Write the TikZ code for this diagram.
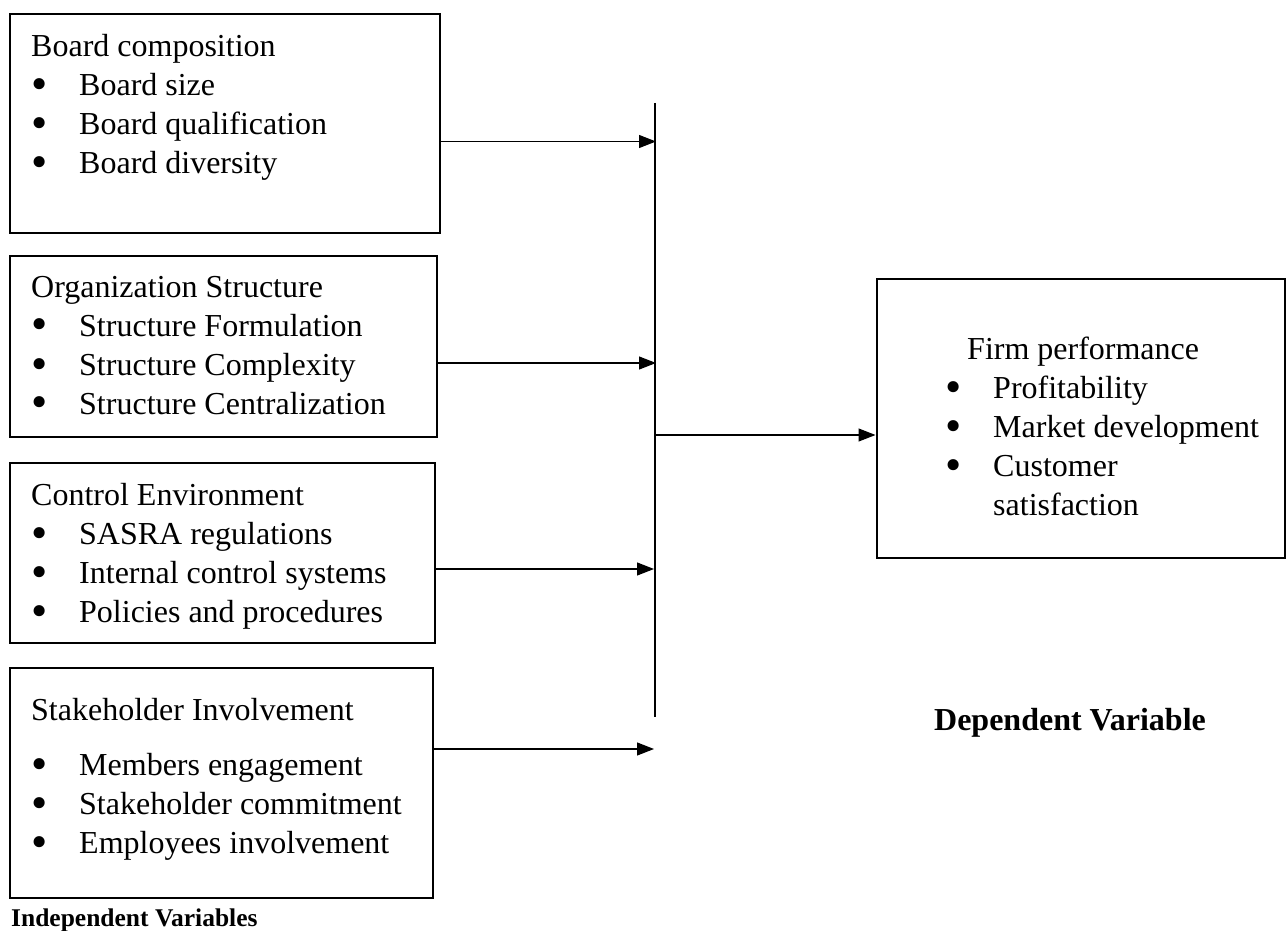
\documentclass[tikz,border=0pt]{standalone}
\usepackage{fontspec}
\usepackage{graphicx}
\setmainfont{Liberation Serif}
\usetikzlibrary{arrows.meta}
\newcommand{\bigbul}{\smash{\raisebox{-4pt}{\scalebox{1.45}{\textbullet}}}}
\newcommand{\bul}{\makebox[48pt][l]{\bigbul}}
\begin{document}
\begin{tikzpicture}[x=1pt,y=-1pt,
  vbox/.style={draw,line width=2pt,rectangle,inner sep=0pt},
  btext/.style={inner sep=0pt,anchor=base west,font=\fontsize{32}{39}\selectfont},
  arr/.style={line width=1.1pt,-{Triangle[length=17pt,width=13pt]}},
  bus/.style={line width=1.1pt}]
\useasboundingbox (0,0) rectangle (1286,931);
% boxes
\node[vbox,minimum width=430pt,minimum height=219pt] (b1) at (225,123.5) {};
\node[vbox,minimum width=427pt,minimum height=181pt] (b2) at (223.5,346.5) {};
\node[vbox,minimum width=425pt,minimum height=180pt] (b3) at (222.5,553) {};
\node[vbox,minimum width=423pt,minimum height=230pt] (b4) at (221.5,783) {};
\node[vbox,minimum width=408pt,minimum height=279pt] (b5) at (1080.5,418.5) {};
% texts
\node[btext] (t1) at (31,57) {\begin{tabular}[t]{@{}l@{}}Board composition\\ \bul Board size\\ \bul Board qualification\\ \bul Board diversity\end{tabular}};
\node[btext] (t2) at (31,297) {\begin{tabular}[t]{@{}l@{}}Organization Structure\\ \bul Structure Formulation\\ \bul Structure Complexity\\ \bul Structure Centralization\end{tabular}};
\node[btext] (t3) at (31,505) {\begin{tabular}[t]{@{}l@{}}Control Environment\\ \bul SASRA regulations\\ \bul Internal control systems\\ \bul Policies and procedures\end{tabular}};
\node[btext] (t4) at (31,720) {\begin{tabular}[t]{@{}l@{}}Stakeholder Involvement\\[16pt] \bul Members engagement\\ \bul Stakeholder commitment\\ \bul Employees involvement\end{tabular}};
\node[btext] (t5) at (945,359) {\begin{tabular}[t]{@{}l@{}}\hspace{22pt}Firm performance\\ \bul Profitability\\ \bul Market development\\ \bul Customer\\ \hspace{48pt}satisfaction\end{tabular}};
% labels
\node[inner sep=0pt,anchor=base west,font=\fontsize{25.5}{30}\selectfont\bfseries] (iv) at (11,926) {Independent Variables};
\node[inner sep=0pt,anchor=base,font=\fontsize{32}{39}\selectfont\bfseries] (dv) at (1070,730) {Dependent Variable};
% bus line
\coordinate (vtop) at (655,103);
\coordinate (vbot) at (655,717);
\draw[bus] (vtop) -- (vbot);
\coordinate (v1) at (656,141.5);
\coordinate (v2) at (656,363);
\coordinate (v3) at (654,569);
\coordinate (v4) at (654,749);
\coordinate (vo) at (655,435);
\draw[arr] (b1.east |- v1) -- (v1);
\draw[arr] (b2.east |- v2) -- (v2);
\draw[arr] (b3.east |- v3) -- (v3);
\draw[arr] (b4.east |- v4) -- (v4);
\draw[arr] (vo) -- (b5.west |- vo);
\end{tikzpicture}
\end{document}
